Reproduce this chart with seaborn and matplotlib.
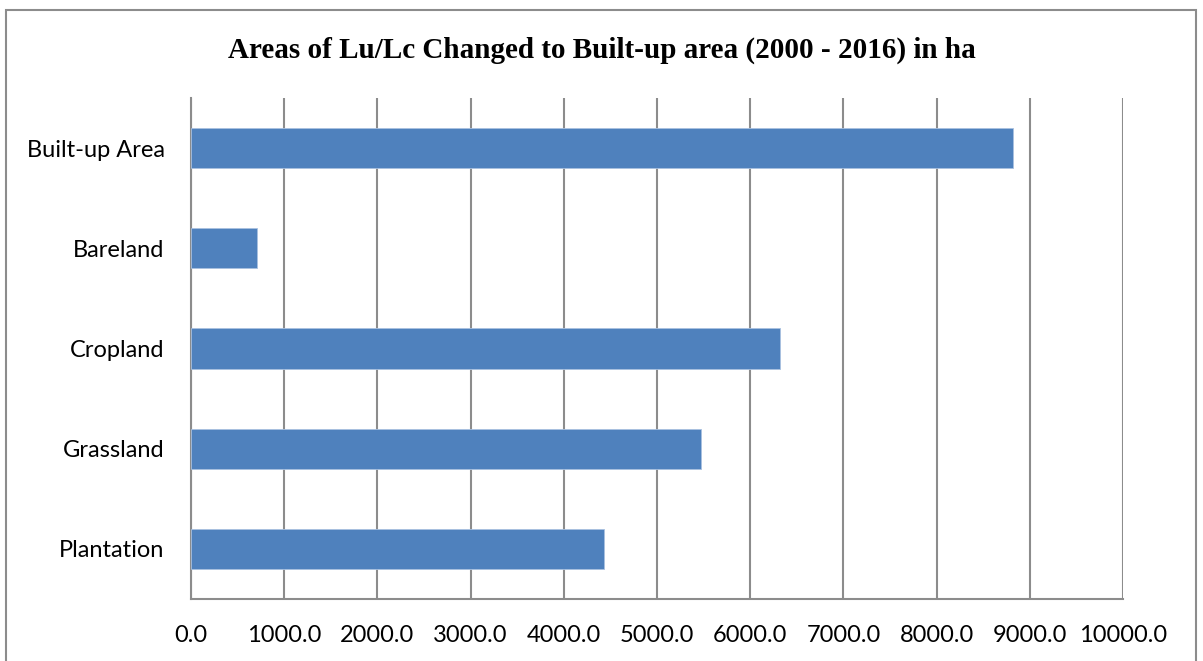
import pandas as pd
import seaborn as sns
import matplotlib.pyplot as plt
from matplotlib.patches import Rectangle

# Land use / land cover classes and area changed to built-up (ha)
classes = ["Built-up Area", "Bareland", "Cropland", "Grassland", "Plantation"]
areas = [8823, 711, 6320, 5475, 4428]
x_ticks = [0, 1000, 2000, 3000, 4000, 5000, 6000, 7000, 8000, 9000, 10000]

df = pd.DataFrame({"cls": classes, "area": areas})

sns.set_style("white")
plt.rcParams["font.family"] = ["Lato", "DejaVu Sans"]

fig = plt.figure(figsize=(12.03, 6.61), dpi=100)
ax = fig.add_axes([191 / 1203, 1 - 599 / 661, (1123 - 191) / 1203, (599 - 98) / 661])

sns.barplot(data=df, x="area", y="cls", order=classes, orient="h",
            color="#4F81BD", saturation=1, width=0.4, ax=ax, zorder=3,
            edgecolor="#a9c1e0", linewidth=0.6)

ax.set_xlim(0, 10000)
ax.set_ylim(4.5, -0.5)
ax.set_xticks(x_ticks)
ax.set_xticklabels([f"{v:.1f}" for v in x_ticks])
ax.grid(axis="x", color="#8c8c8c", linewidth=1.5, zorder=0)
ax.tick_params(axis="both", length=0, labelsize=17, colors="black")
ax.tick_params(axis="x", pad=19)
ax.tick_params(axis="y", pad=19)
ax.set_xlabel("")
ax.set_ylabel("")
for s in ["top", "right"]:
    ax.spines[s].set_visible(False)
ax.spines["left"].set_color("#8c8c8c")
ax.spines["bottom"].set_color("#8c8c8c")
ax.spines["left"].set_linewidth(1.5)
ax.spines["bottom"].set_linewidth(1.5)

fig.text(0.5, 1 - 50 / 661, "Areas of Lu/Lc Changed to Built-up area (2000 - 2016) in ha",
         ha="center", va="center", fontsize=21, fontweight="bold",
         family="Liberation Serif", color="black")

# outer chart border
fig.patches.append(Rectangle((6 / 1203, -0.05), (1196 - 6) / 1203, 1.05 - 10 / 661,
                             transform=fig.transFigure, fill=False,
                             edgecolor="#8c8c8c", linewidth=1.5))

fig.savefig("out.png", dpi=100)
